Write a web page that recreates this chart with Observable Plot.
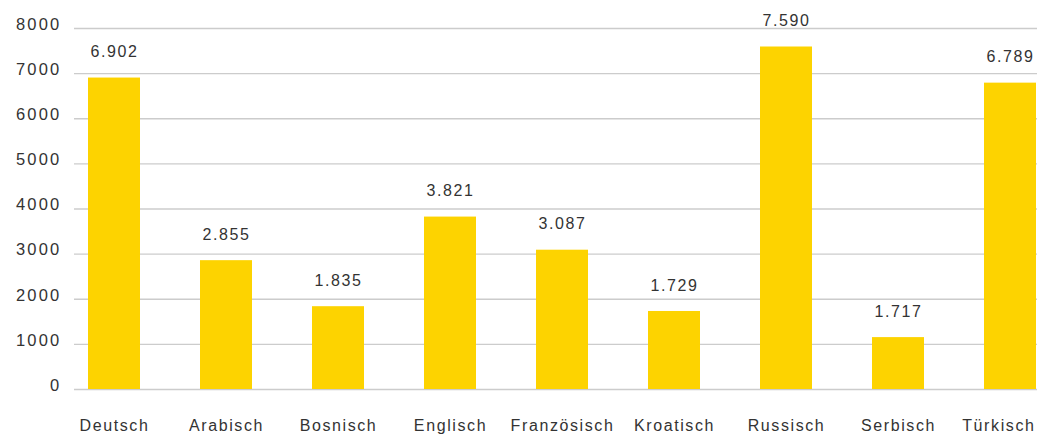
<!DOCTYPE html>
<html>
<head>
<meta charset="utf-8">
<script src="https://cdn.jsdelivr.net/npm/d3@7"></script>
<script src="https://cdn.jsdelivr.net/npm/@observablehq/plot@0.6"></script>
<style>
  html, body { margin: 0; padding: 0; background: #fff; }
  #chart svg { display: block; }
  #chart svg text { letter-spacing: 1.6px; }
  #chart svg g[aria-label="y-axis tick label"] text { letter-spacing: 2.2px; }
</style>
</head>
<body>
<div id="chart"></div>
<script>
const categories = ["Deutsch", "Arabisch", "Bosnisch", "Englisch", "Französisch", "Kroatisch", "Russisch", "Serbisch", "Türkisch"];
const barValues = [6902, 2855, 1835, 3821, 3087, 1729, 7590, 1150, 6789];
const valueLabels = ["6.902", "2.855", "1.835", "3.821", "3.087", "1.729", "7.590", "1.717", "6.789"];
const yTicks = [0, 1000, 2000, 3000, 4000, 5000, 6000, 7000, 8000];

const data = categories.map((c, i) => ({cat: c, v: barValues[i], label: valueLabels[i]}));
const lastCat = categories[categories.length - 1];

const chart = Plot.plot({
  width: 1037,
  height: 434,
  marginLeft: 74,
  marginRight: 0,
  marginTop: 28,
  marginBottom: 45,
  style: {fontFamily: "'Liberation Sans', Arial, sans-serif", fontSize: "16px", color: "#333", background: "#fff"},
  x: {domain: categories, range: [74, 1050], paddingInner: 0.536, paddingOuter: 0.125, label: null},
  y: {domain: [0, 8000], label: null},
  marks: [
    Plot.gridY(yTicks, {stroke: "#cccccc", strokeOpacity: 1, strokeWidth: 1.3}),
    Plot.axisY(yTicks, {tickSize: 0, tickPadding: 13, fontSize: 16.5, fill: "#333", dy: -4, label: null, tickFormat: d => String(d)}),
    Plot.axisX(categories.slice(0, -1), {tickSize: 0, tickPadding: 30, fontSize: 16, fill: "#333", label: null}),
    Plot.text([lastCat], {x: d => d, frameAnchor: "bottom", lineAnchor: "top", textAnchor: "end", dy: 30, dx: 25, fontSize: 16, fill: "#333"}),
    Plot.barY(data, {x: "cat", y: "v", fill: "#fdd300"}),
    Plot.text(data, {x: "cat", y: "v", text: "label", dy: -26, lineAnchor: "middle", fontSize: 16, fill: "#333"})
  ]
});
document.getElementById("chart").appendChild(chart);
</script>
</body>
</html>
